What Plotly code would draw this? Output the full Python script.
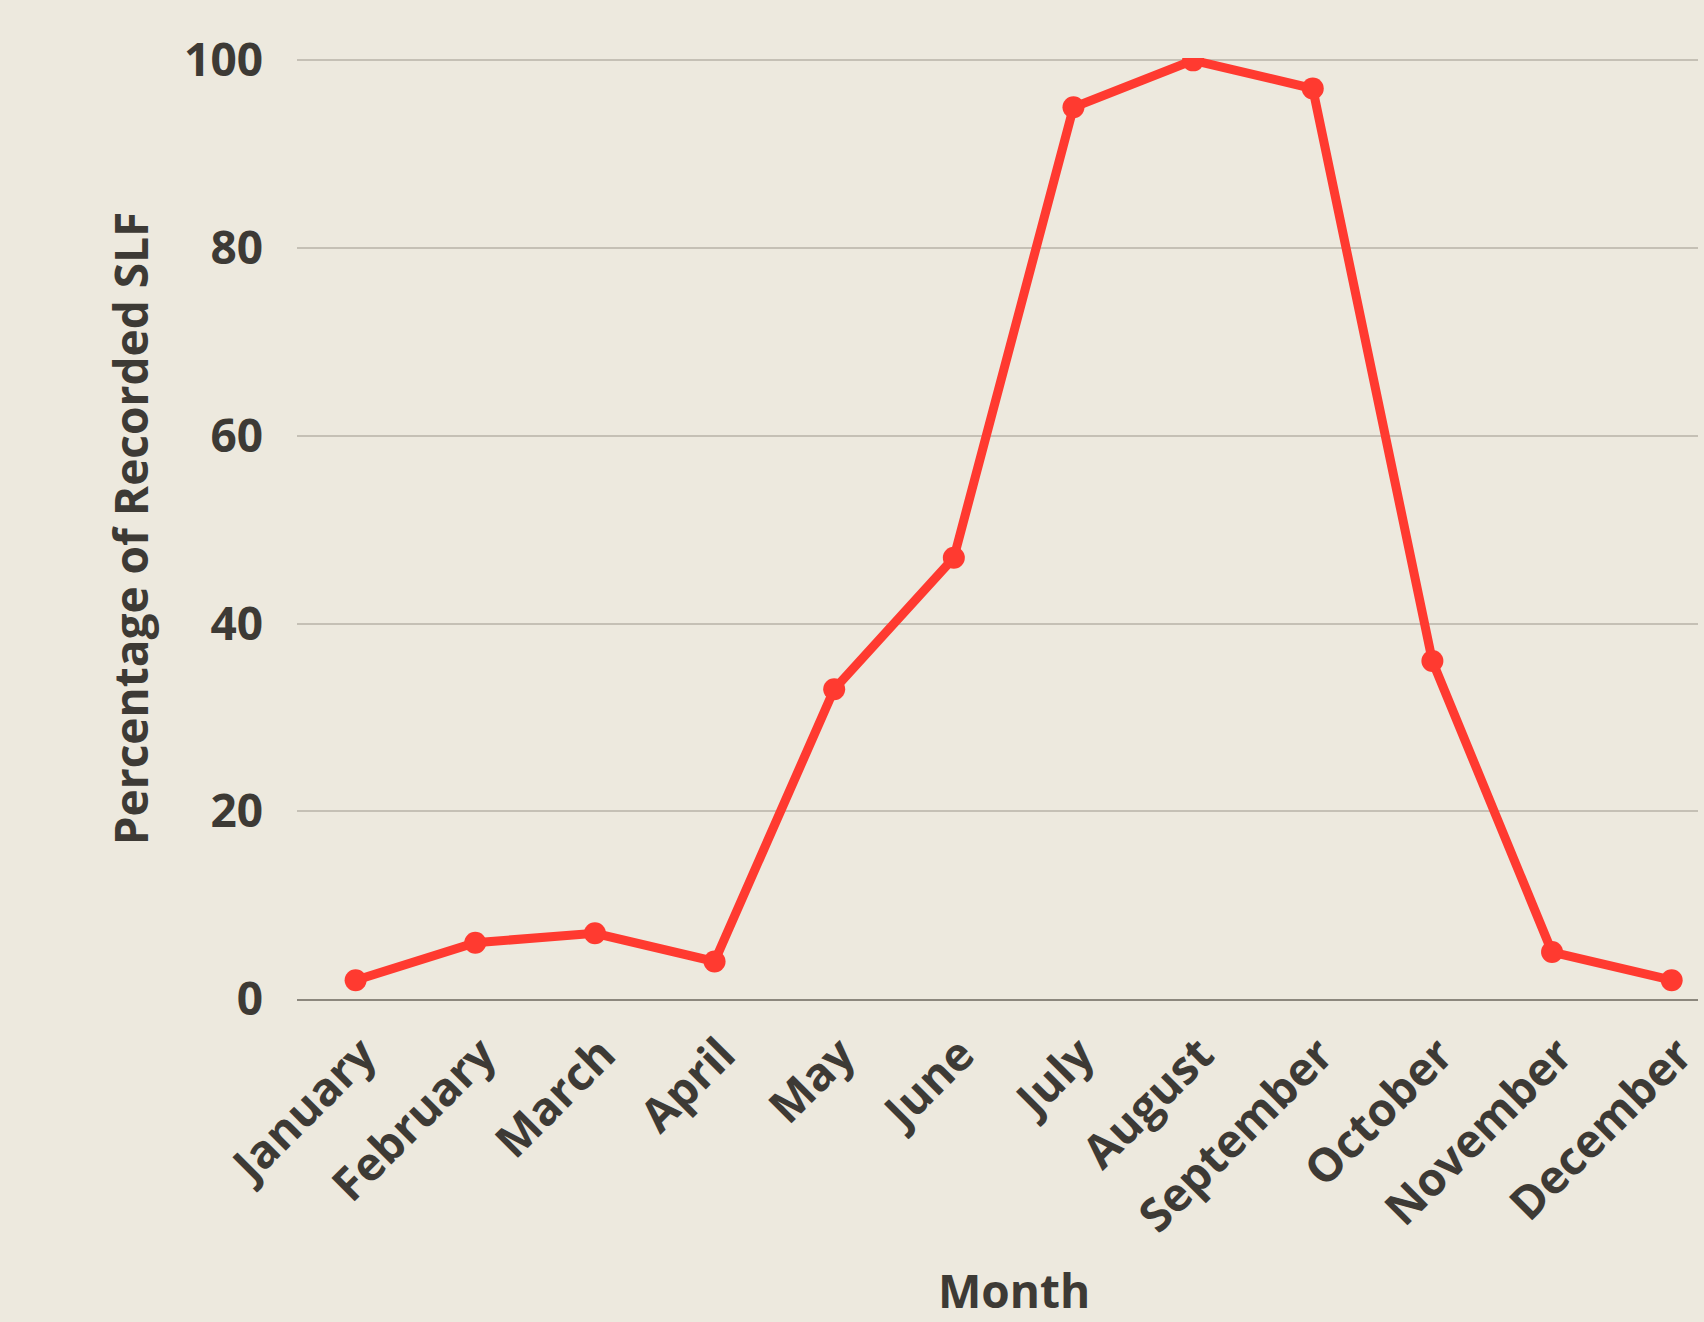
import plotly.graph_objects as go

months = ["January", "February", "March", "April", "May", "June", "July",
          "August", "September", "October", "November", "December"]
percent_slf = [2, 6, 7, 4, 33, 47, 95, 100, 97, 36, 5, 2]
y_ticks = [0, 20, 40, 60, 80, 100]

BG = "#EDE9DE"
TEXT = "#3D3A35"
RED = "#FF3A30"

fig = go.Figure(go.Scatter(
    x=months, y=percent_slf, mode="lines+markers",
    line=dict(color=RED, width=9),
    marker=dict(color=RED, size=22),
    cliponaxis=True,
))

font = dict(family="Open Sans", size=46, color=TEXT, weight=700)

fig.update_layout(
    width=1704, height=1322,
    paper_bgcolor=BG, plot_bgcolor=BG,
    margin=dict(l=297, r=0, t=58, b=323),
    font=font,
    showlegend=False,
    annotations=[dict(
        text="Month", xref="paper", yref="paper",
        x=0.5115, y=-0.3095, xanchor="center", yanchor="middle",
        showarrow=False, font=font,
    )],
)
fig.update_xaxes(
    type="category", range=[-0.49, 11.22],
    tickangle=-45, tickfont=font, showgrid=False,
    ticklabelstandoff=8, ticklabelshift=7,
    showline=True, linecolor="#8C877D", linewidth=2,
)
fig.update_yaxes(
    range=[0, 100.25], tickvals=y_ticks, tickfont=font,
    gridcolor="#C5C0B5", gridwidth=2, zeroline=False,
    ticklabelstandoff=33,
    title=dict(text="Percentage of Recorded SLF", font=font, standoff=20),
)

fig.write_html(
    "out.html",
    config={"displayModeBar": False},
    post_script="document.body.style.margin='0';document.body.style.background='#EDE9DE';document.body.style.overflow='hidden';",
)
